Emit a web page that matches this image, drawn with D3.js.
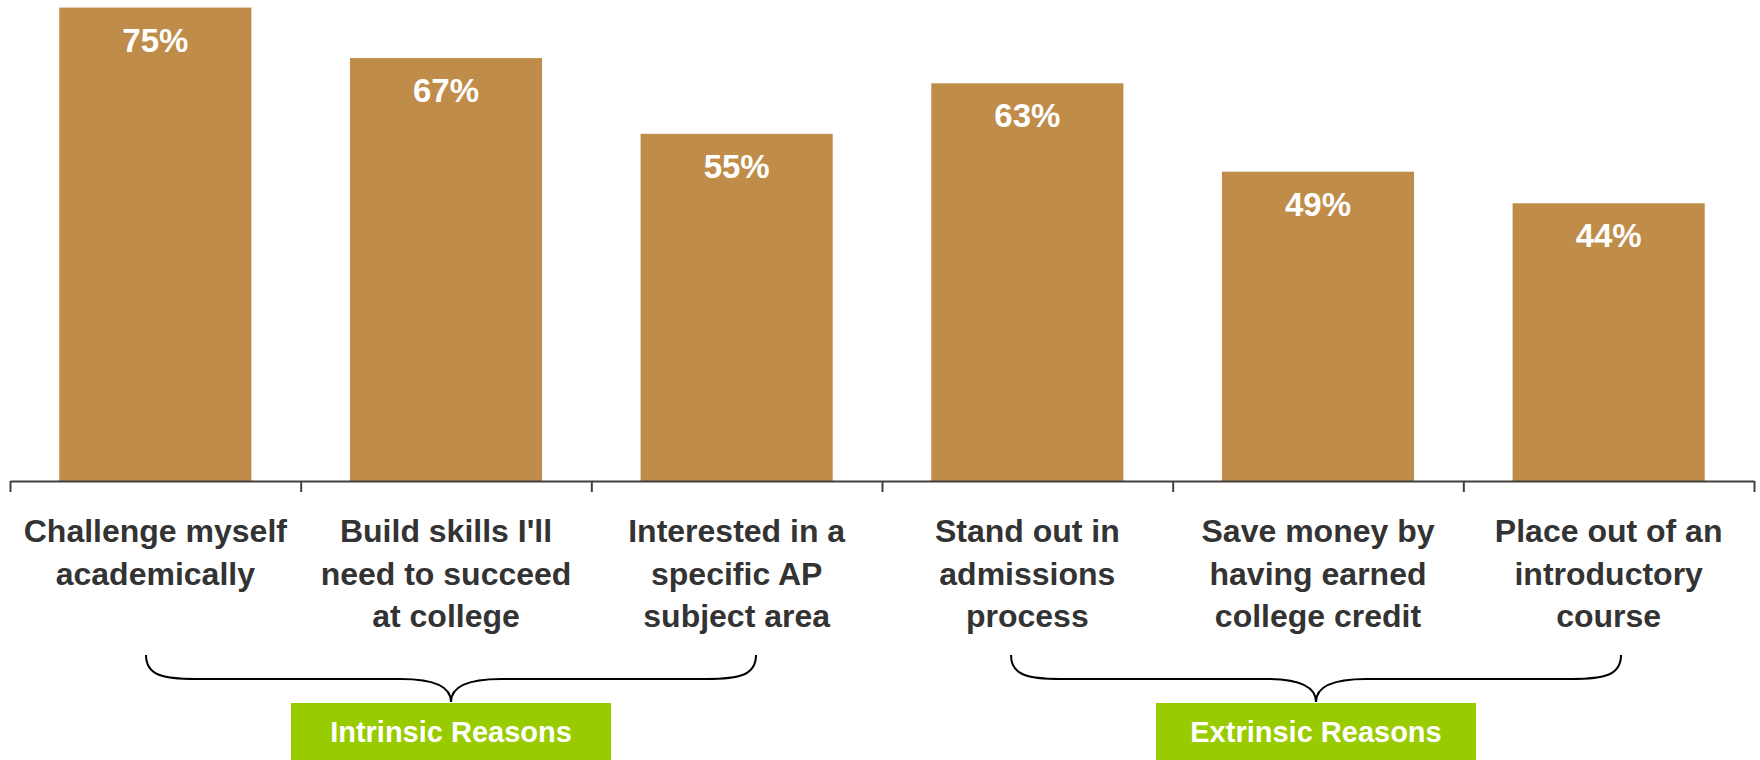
<!DOCTYPE html>
<html>
<head>
<meta charset="utf-8">
<script src="https://cdn.jsdelivr.net/npm/d3@7"></script>
<style>
  html, body { margin: 0; padding: 0; background: #ffffff; }
  svg { display: block; font-family: "Liberation Sans", Arial, sans-serif; }
</style>
</head>
<body>
<svg id="chart" width="1760" height="760"></svg>
<script>
// Reasons for taking AP courses (share of students)
const categories = [
  "Challenge myself\nacademically",
  "Build skills I'll\nneed to succeed\nat college",
  "Interested in a\nspecific AP\nsubject area",
  "Stand out in\nadmissions\nprocess",
  "Save money by\nhaving earned\ncollege credit",
  "Place out of an\nintroductory\ncourse"
];
const values = [75, 67, 55, 63, 49, 44];

// Category groupings shown under the axis with braces
const groupNames = ["Intrinsic Reasons", "Extrinsic Reasons"];
const groupStart = [0, 3];
const groupEnd = [2, 5];

const svg = d3.select("#chart");

const plotLeft = 10, plotRight = 1754, baseY = 481;
const barColor = "#bf8c49";
const groupColor = "#99cc00";
const axisColor = "#404040";
const labelColor = "#333333";

const x = d3.scaleBand()
  .domain(d3.range(categories.length))
  .range([plotLeft, plotRight])
  .padding(0);

const y = d3.scaleLinear()
  .domain([0, 76.2])
  .range([baseY, 0]);

const barW = x.bandwidth() * 0.661;

// Bars
svg.append("g").selectAll("rect")
  .data(values)
  .join("rect")
  .attr("x", (d, i) => x(i) + (x.bandwidth() - barW) / 2)
  .attr("y", d => y(d))
  .attr("width", barW)
  .attr("height", d => y(0) - y(d))
  .attr("fill", barColor);

// Value labels inside the top of each bar
svg.append("g").selectAll("text")
  .data(values)
  .join("text")
  .attr("x", (d, i) => x(i) + x.bandwidth() / 2)
  .attr("y", d => y(d) + 44)
  .attr("text-anchor", "middle")
  .attr("fill", "#ffffff")
  .attr("font-weight", "bold")
  .attr("font-size", 33)
  .text(d => d + "%");

// Category axis with ticks on the band boundaries
const edge = d3.scaleLinear().domain([0, categories.length]).range([plotLeft, plotRight]);
const axis = d3.axisBottom(edge)
  .tickValues(d3.range(categories.length + 1))
  .tickFormat("")
  .tickSizeInner(11)
  .tickSizeOuter(0);
const gAxis = svg.append("g")
  .attr("transform", `translate(0,${baseY})`)
  .call(axis);
gAxis.select(".domain").attr("stroke", axisColor).attr("stroke-width", 2);
gAxis.selectAll(".tick line").attr("stroke", axisColor).attr("stroke-width", 2);

// Multi-line category labels
const labels = svg.append("g").selectAll("text")
  .data(categories)
  .join("text")
  .attr("text-anchor", "middle")
  .attr("fill", labelColor)
  .attr("font-weight", "bold")
  .attr("font-size", 32);
labels.each(function(d, i) {
  const t = d3.select(this);
  d.split("\n").forEach((line, k) => {
    t.append("tspan")
      .attr("x", x(i) + x.bandwidth() / 2)
      .attr("y", 542 + k * 42.7)
      .text(line);
  });
});

// Braces and group boxes
const braceHalf = 305, braceTop = 655, braceMid = 679, braceTip = 702;
const boxHalf = 160;

function bracePath(cx) {
  const l = cx - braceHalf, r = cx + braceHalf;
  return `M${l},${braceTop}` +
    `C${l},${braceMid - 4} ${l + 16},${braceMid} ${l + 50},${braceMid}` +
    `L${cx - 50},${braceMid}` +
    `C${cx - 22},${braceMid} ${cx},${braceMid + 6} ${cx},${braceTip}` +
    `C${cx},${braceMid + 6} ${cx + 22},${braceMid} ${cx + 50},${braceMid}` +
    `L${r - 50},${braceMid}` +
    `C${r - 16},${braceMid} ${r},${braceMid - 4} ${r},${braceTop}`;
}

const groupCenters = groupNames.map((g, i) =>
  (x(groupStart[i]) + x(groupEnd[i]) + x.bandwidth()) / 2 + (i === 0 ? 5 : -2));

const groups = svg.append("g").selectAll("g")
  .data(groupNames)
  .join("g");

groups.append("path")
  .attr("d", (d, i) => bracePath(groupCenters[i]))
  .attr("fill", "none")
  .attr("stroke", "#000000")
  .attr("stroke-width", 2);

groups.append("rect")
  .attr("x", (d, i) => groupCenters[i] - boxHalf)
  .attr("y", braceTip + 1)
  .attr("width", boxHalf * 2)
  .attr("height", 760 - braceTip)
  .attr("fill", groupColor);

groups.append("text")
  .attr("x", (d, i) => groupCenters[i])
  .attr("y", 742)
  .attr("text-anchor", "middle")
  .attr("fill", "#ffffff")
  .attr("font-weight", "bold")
  .attr("font-size", 29)
  .text(d => d);
</script>
</body>
</html>
